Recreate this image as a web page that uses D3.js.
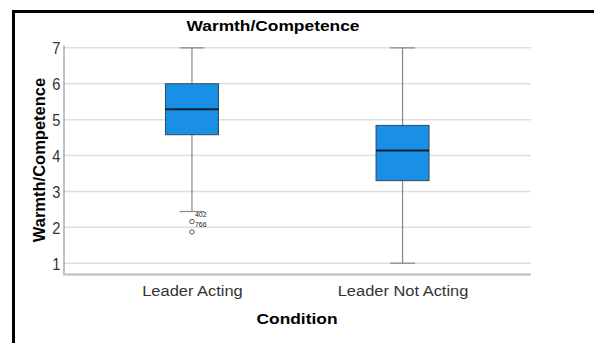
<!DOCTYPE html>
<html>
  <head>
    <meta charset="utf-8">
    <title>Warmth/Competence</title>
    <style>
      body { margin: 0; background: white; }
      text { font-family: Arial, "Liberation Sans", sans-serif; }
      .grid line { stroke: #dedede; stroke-width: 1.5; }
      .whisker { stroke: #888; stroke-width: 1.2; }
      .box { fill: #1a8fe6; stroke: #34495a; stroke-width: 1; }
      .median { stroke: #10202c; stroke-width: 2; }
      .outlier { fill: white; stroke: #555; stroke-width: 1; }
    </style>
  </head>
  <body>
    <svg width="594" height="343"></svg>
    <script src="https://cdnjs.cloudflare.com/ajax/libs/d3/7.8.5/d3.min.js"></script>
    <script type="application/javascript">
      const conditions = ['Leader Acting', 'Leader Not Acting'];
      const whiskerLow = [2.44, 1.0];
      const q1 = [4.58, 3.30];
      const medians = [5.29, 4.14];
      const q3 = [6.0, 4.84];
      const whiskerHigh = [7.0, 7.0];
      const outliers = [
        { cond: 'Leader Acting', value: 2.16, label: '402' },
        { cond: 'Leader Acting', value: 1.87, label: '766' }
      ];
      const yTicks = [1, 2, 3, 4, 5, 6, 7];

      const svg = d3.select('svg');

      // the original picture is a bit stretched sideways, so widen text to match
      function stretch(sel, factor) {
        sel.each(function() {
          const w = this.getComputedTextLength();
          d3.select(this)
            .attr('textLength', w * factor)
            .attr('lengthAdjust', 'spacingAndGlyphs');
        });
      }

      // outer frame
      svg.append('rect')
        .attr('x', 13.5).attr('y', 11.5)
        .attr('width', 620).attr('height', 360)
        .attr('fill', 'none')
        .attr('stroke', 'black')
        .attr('stroke-width', 3);

      const plotLeft = 63.5, plotRight = 531, plotTop = 45, plotBottom = 274.5;

      const x = d3.scalePoint()
        .domain(conditions)
        .range([plotLeft, plotRight])
        .padding(0.61);

      const y = d3.scaleLinear()
        .domain([0.685, 7.08])
        .range([plotBottom, plotTop]);

      // gridlines
      svg.append('g').attr('class', 'grid')
        .selectAll('line')
        .data(yTicks)
        .enter()
          .append('line')
          .attr('x1', plotLeft).attr('x2', plotRight)
          .attr('y1', d => y(d)).attr('y2', d => y(d));

      // y axis
      const yAxis = svg.append('g')
        .attr('transform', `translate(${plotLeft},0)`)
        .call(d3.axisLeft(y).tickValues(yTicks).tickSize(0).tickPadding(3).tickFormat(d3.format('d')));
      yAxis.select('.domain').attr('stroke', '#999').attr('stroke-width', 1.2);
      yAxis.selectAll('text').attr('font-size', 17).attr('fill', '#333').attr('dy', '0.36em');
      stretch(yAxis.selectAll('text'), 0.86);

      // x axis
      const xAxis = svg.append('g')
        .attr('transform', `translate(0,${plotBottom})`)
        .call(d3.axisBottom(x).tickSize(0).tickPadding(10));
      xAxis.select('.domain').attr('d', `M${plotLeft},0H${plotRight}`).attr('stroke', '#bbb').attr('stroke-width', 2);
      xAxis.selectAll('text').attr('font-size', 15.5).attr('fill', '#333');
      stretch(xAxis.selectAll('text'), 1.06);

      const boxW = 53, capW = 25;
      const stats = conditions.map((c, i) => ({
        c, lo: whiskerLow[i], q1: q1[i], med: medians[i], q3: q3[i], hi: whiskerHigh[i]
      }));

      const boxes = svg.append('g')
        .selectAll('g')
        .data(stats)
        .enter()
          .append('g');

      boxes.append('line').attr('class', 'whisker')
        .attr('x1', d => x(d.c)).attr('x2', d => x(d.c))
        .attr('y1', d => y(d.hi)).attr('y2', d => y(d.q3));
      boxes.append('line').attr('class', 'whisker')
        .attr('x1', d => x(d.c)).attr('x2', d => x(d.c))
        .attr('y1', d => y(d.q1)).attr('y2', d => y(d.lo));
      boxes.append('line').attr('class', 'whisker')
        .attr('x1', d => x(d.c) - capW / 2).attr('x2', d => x(d.c) + capW / 2)
        .attr('y1', d => y(d.hi)).attr('y2', d => y(d.hi));
      boxes.append('line').attr('class', 'whisker')
        .attr('x1', d => x(d.c) - capW / 2).attr('x2', d => x(d.c) + capW / 2)
        .attr('y1', d => y(d.lo)).attr('y2', d => y(d.lo));

      boxes.append('rect').attr('class', 'box')
        .attr('x', d => x(d.c) - boxW / 2)
        .attr('width', boxW)
        .attr('y', d => y(d.q3))
        .attr('height', d => y(d.q1) - y(d.q3));

      boxes.append('line').attr('class', 'median')
        .attr('x1', d => x(d.c) - boxW / 2).attr('x2', d => x(d.c) + boxW / 2)
        .attr('y1', d => y(d.med)).attr('y2', d => y(d.med));

      const outs = svg.append('g')
        .selectAll('g')
        .data(outliers)
        .enter()
          .append('g');
      outs.append('circle').attr('class', 'outlier')
        .attr('cx', d => x(d.cond))
        .attr('cy', d => y(d.value))
        .attr('r', 2.2);
      outs.append('text')
        .attr('x', d => x(d.cond) + 3)
        .attr('y', d => y(d.value) - 7.5)
        .attr('dy', '0.35em')
        .attr('font-size', 7)
        .attr('fill', '#222')
        .text(d => d.label);

      // titles
      const title = svg.append('text')
        .attr('x', 273).attr('y', 31)
        .attr('text-anchor', 'middle')
        .attr('font-size', 14).attr('font-weight', 'bold')
        .text('Warmth/Competence');
      stretch(title, 1.24);

      const yTitle = svg.append('text')
        .attr('transform', `translate(45,160) rotate(-90)`)
        .attr('text-anchor', 'middle')
        .attr('font-size', 16.5).attr('font-weight', 'bold')
        .text('Warmth/Competence');
      stretch(yTitle, 1.0);

      const xTitle = svg.append('text')
        .attr('x', 297).attr('y', 323.5)
        .attr('text-anchor', 'middle')
        .attr('font-size', 15.5).attr('font-weight', 'bold')
        .text('Condition');
      stretch(xTitle, 1.12);
    </script>
  </body>
</html>
